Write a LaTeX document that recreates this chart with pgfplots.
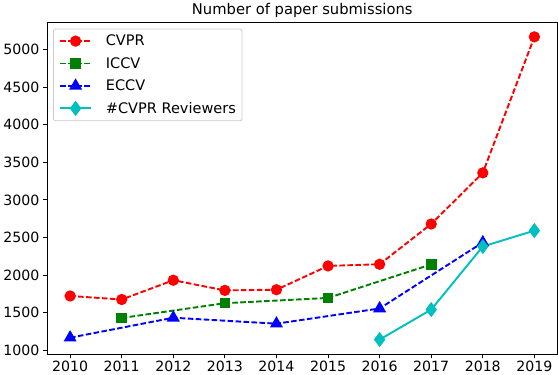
\documentclass[border=0pt]{standalone}
\usepackage{fontspec}
\setmainfont{DejaVu Sans}
\usepackage{pgfplots}
\pgfplotsset{compat=1.18}

\definecolor{mplred}{rgb}{1,0,0}
\definecolor{mplgreen}{rgb}{0,0.5,0}
\definecolor{mplblue}{rgb}{0,0,1}
\definecolor{mplcyan}{rgb}{0,0.75,0.75}

\begin{document}
\begin{tikzpicture}
\begin{axis}[
    scale only axis,
    width=506pt, height=329pt,
    xmin=2009.55, xmax=2019.45,
    ymin=950, ymax=5360,
    xtick={2010,...,2019},
    ytick={1000,1500,...,5000},
    /pgf/number format/assume math mode=true,
    /pgf/number format/1000 sep={},
    tick label style={font=\fontsize{14}{16}\selectfont},
    xticklabel style={yshift=1pt},
    tick align=outside,
    tick pos=left,
    major tick length=4pt,
    every tick/.style={black, line width=0.8pt},
    axis line style={line width=0.8pt},
    title={Number of paper submissions},
    title style={font=\fontsize{14.6}{16}\selectfont, yshift=-5pt},
    legend cell align=left,
    legend style={at={(0.012,0.981)}, anchor=north west, rounded corners=2pt,
        draw=black!20, line width=0.8pt, font=\fontsize{14.4}{16}\selectfont,
        row sep=6pt, inner xsep=4pt, inner ysep=4pt},
    legend image code/.code={
        \path (-2pt,0pt) (42pt,0pt);
        \draw[mark repeat=2,mark phase=2,#1,line width=1.9pt]
        plot coordinates {(0pt,0pt) (15pt,0pt) (30pt,0pt)};},
]
\addplot[mplred, line width=1.9pt, dash pattern=on 5.5pt off 2.4pt, mark=*,
    mark size=4.6pt, mark options={solid}] coordinates {
    (2010,1724) (2011,1677) (2012,1933) (2013,1798) (2014,1807)
    (2015,2123) (2016,2145) (2017,2680) (2018,3359) (2019,5165)};
\addlegendentry{CVPR}
\addplot[mplgreen, line width=1.9pt, dash pattern=on 5.5pt off 2.4pt, mark=square*,
    mark size=4.3pt, mark options={solid}] coordinates {
    (2011,1432) (2013,1628) (2015,1698) (2017,2143)};
\addlegendentry{ICCV}
\addplot[mplblue, line width=1.9pt, dash pattern=on 5.5pt off 2.4pt, mark=triangle*,
    mark size=5.6pt, mark options={solid}] coordinates {
    (2010,1170) (2012,1435) (2014,1356) (2016,1558) (2018,2435)};
\addlegendentry{ECCV}
\addplot[mplcyan, line width=1.9pt, solid, mark=diamond*, mark size=6pt] coordinates {
    (2016,1145) (2017,1543) (2018,2381) (2019,2592)};
\addlegendentry{\#CVPR Reviewers}
\end{axis}
\end{tikzpicture}
\end{document}
